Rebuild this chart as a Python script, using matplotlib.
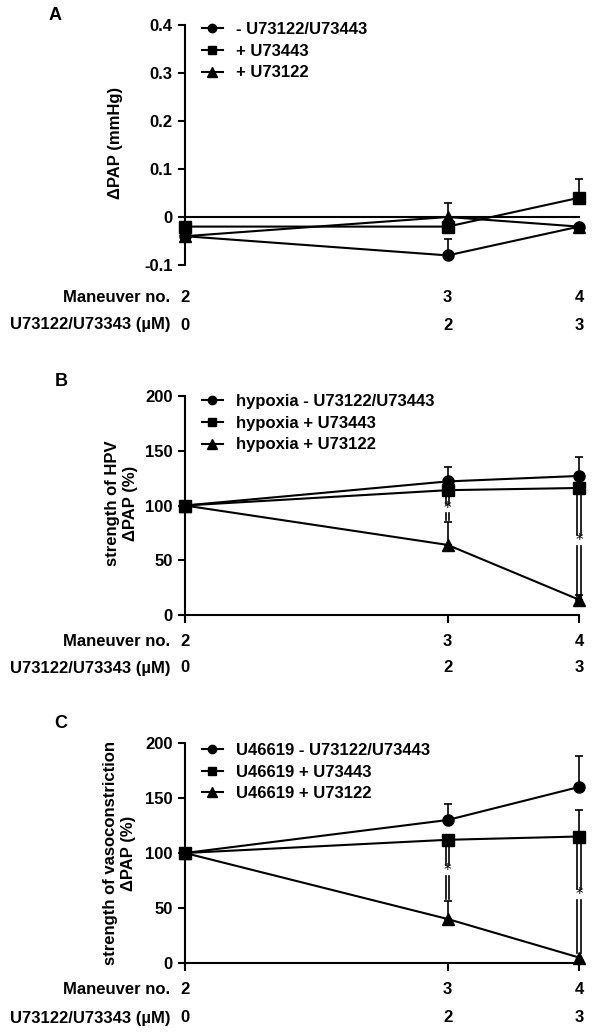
import matplotlib.pyplot as plt
import matplotlib.transforms as mtransforms
from matplotlib import font_manager
from matplotlib.ticker import FuncFormatter

names = {f.name for f in font_manager.fontManager.ttflist}
main_font = next(f for f in ['Liberation Sans', 'Arial', 'DejaVu Sans'] if f in names)
plt.rcParams['font.family'] = [main_font, 'DejaVu Sans']
plt.rcParams['font.weight'] = 'bold'
plt.rcParams['font.size'] = 12

conc = [0, 2, 3]
maneuver = [2, 3, 4]

# panel A: delta PAP (mmHg)
a_labels = ['- U73122/U73443', '+ U73443', '+ U73122']
a_vals = [[-0.04, -0.08, -0.02], [-0.02, -0.02, 0.04], [-0.04, 0.0, -0.02]]
a_err = [[0, 0.035, 0], [0, 0, 0.04], [0, 0.03, 0]]

# panel B: strength of HPV (%)
b_labels = ['hypoxia - U73122/U73443', 'hypoxia + U73443', 'hypoxia + U73122']
b_vals = [[100, 122, 127], [100, 114, 116], [100, 64, 14]]
b_err = [[0, 13, 17], [0, 0, 0], [0, 21, 4]]
# significance bars: x, (top, bottom) segments, star position
b_sig_x = [2, 3]
b_sig_seg = [[(108, 101), (93, 87)], [(110, 73), (63, 16)]]
b_sig_star = [97, 68]

# panel C: strength of vasoconstriction (%)
c_labels = ['U46619 - U73122/U73443', 'U46619 + U73443', 'U46619 + U73122']
c_vals = [[100, 130, 160], [100, 112, 115], [100, 40, 5]]
c_err = [[0, 15, 28], [0, 0, 24], [0, 16, 0]]
c_sig_x = [2, 3]
c_sig_seg = [[(107, 89), (79, 58)], [(109, 67), (57, 9)]]
c_sig_star = [84, 62]

markers = ['o', 's', '^']
msizes = [8, 8, 9]

W, H = 600, 1033
fig = plt.figure(figsize=(W / 100, H / 100), dpi=100)


def px_ax(top, bottom):
    return fig.add_axes([185 / W, 1 - bottom / H, 394 / W, (bottom - top) / H])


def draw_series(ax, vals, errs, labels):
    for v, e, m, ms, lab in zip(vals, errs, markers, msizes, labels):
        xs = [x for x, ee in zip(conc, e) if ee > 0]
        ys = [y for y, ee in zip(v, e) if ee > 0]
        es = [ee for ee in e if ee > 0]
        if xs:
            ax.errorbar(xs, ys, yerr=[[0] * len(es), es], fmt='none', ecolor='black',
                        elinewidth=1.2, capsize=3, capthick=1.2, clip_on=False, zorder=2)
        ax.plot(conc, v, color='black', lw=1.5, marker=m, ms=ms, label=lab,
                clip_on=False, zorder=3)


def draw_sig(ax, xs, segs, stars):
    for x, seg, s in zip(xs, segs, stars):
        for dx in (-1.8, 1.8):
            tr = mtransforms.offset_copy(ax.transData, fig=fig, x=dx, y=0, units='dots')
            for top, bot in seg:
                ax.plot([x, x], [top, bot], color='black', lw=1.2, transform=tr,
                        clip_on=False, zorder=2)
        ax.text(x, s, '*', ha='center', va='center', fontsize=11, fontweight='normal',
                family='DejaVu Sans', zorder=4)


def style(ax, ylim, yticks):
    ax.set_xlim(0, 3)
    ax.set_ylim(*ylim)
    ax.set_yticks(yticks)
    ax.spines['top'].set_visible(False)
    ax.spines['right'].set_visible(False)
    ax.spines['left'].set_linewidth(1.5)
    ax.spines['bottom'].set_linewidth(1.5)
    ax.tick_params(axis='y', direction='out', length=5, width=1.5, pad=4)
    ax.set_xticks(conc)
    ax.set_xticklabels([])
    ax.tick_params(axis='x', direction='out', length=6, width=1.5)


def rows(ax, y1, y2):
    tr = mtransforms.blended_transform_factory(ax.transData, fig.transFigure)
    fig.text(170 / W, 1 - y1 / H, 'Maneuver no.', ha='right', va='center')
    fig.text(170 / W, 1 - y2 / H, 'U73122/U73343 (µM)', ha='right', va='center')
    for x, m in zip(conc, maneuver):
        ax.text(x, 1 - y1 / H, str(m), transform=tr, ha='center', va='center')
        ax.text(x, 1 - y2 / H, str(x), transform=tr, ha='center', va='center')


def legend(ax, ytop):
    ax.legend(loc='upper left', bbox_to_anchor=(0.043, ytop), frameon=False,
              handlelength=1.25, handletextpad=0.8, labelspacing=0.4,
              borderaxespad=0, borderpad=0, markerscale=0.75)


# A
axA = px_ax(25, 265)
draw_series(axA, a_vals, a_err, a_labels)
style(axA, (-0.1, 0.4), [-0.1, 0, 0.1, 0.2, 0.3, 0.4])
axA.spines['bottom'].set_position(('data', 0))
axA.tick_params(axis='x', length=0)
axA.yaxis.set_major_formatter(FuncFormatter(lambda v, p: '0' if abs(v) < 1e-9 else '%.1f' % v))
legend(axA, 1.0125)
rows(axA, 298, 325)
fig.text(55 / W, 1 - 15 / H, 'A', ha='center', va='center', fontsize=13)
fig.text(115 / W, 1 - 143 / H, 'ΔPAP (mmHg)', rotation=90, ha='center', va='center')

# B
axB = px_ax(396, 615)
draw_series(axB, b_vals, b_err, b_labels)
draw_sig(axB, b_sig_x, b_sig_seg, b_sig_star)
style(axB, (0, 200), [0, 50, 100, 150, 200])
legend(axB, 1.009)
rows(axB, 642, 668)
fig.text(61 / W, 1 - 382 / H, 'B', ha='center', va='center', fontsize=13)
fig.text(121 / W, 1 - 503 / H, 'strength of HPV\nΔPAP (%)', rotation=90, ha='center',
         va='center', multialignment='center', linespacing=1.25)

# C
axC = px_ax(743, 963)
draw_series(axC, c_vals, c_err, c_labels)
draw_sig(axC, c_sig_x, c_sig_seg, c_sig_star)
style(axC, (0, 200), [0, 50, 100, 150, 200])
legend(axC, 1.0)
rows(axC, 990, 1018)
fig.text(61 / W, 1 - 723 / H, 'C', ha='center', va='center', fontsize=13)
fig.text(120 / W, 1 - 853 / H, 'strength of vasoconstriction\nΔPAP (%)', rotation=90,
         ha='center', va='center', multialignment='center', linespacing=1.25)

fig.savefig('out.png', dpi=100)
